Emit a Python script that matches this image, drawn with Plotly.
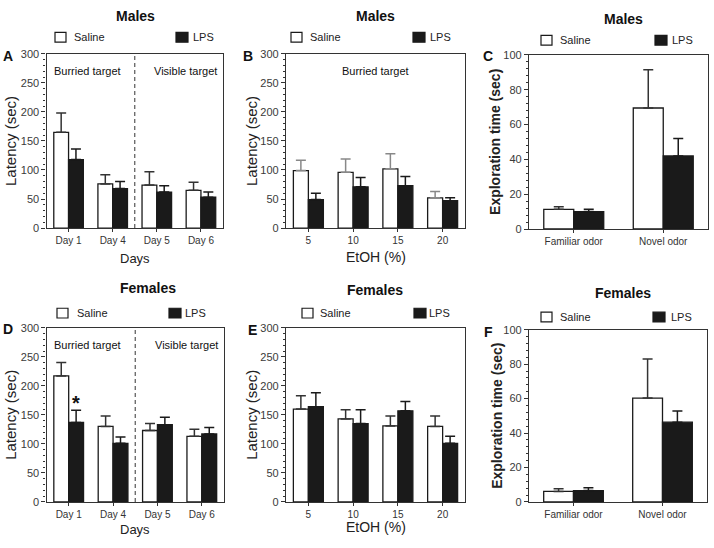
import plotly.graph_objects as go

# ---------------- data ----------------
days = ["Day 1", "Day 4", "Day 5", "Day 6"]
etoh = ["5", "10", "15", "20"]
odors = ["Familiar odor", "Novel odor"]

males_days_saline = [165, 76, 74, 65]
males_days_saline_err = [33, 16, 23, 14]
males_days_lps = [118, 68, 62, 53]
males_days_lps_err = [18, 12, 11, 9]

males_etoh_saline = [99, 96, 102, 52]
males_etoh_saline_err = [18, 23, 26, 11]
males_etoh_lps = [49, 71, 73, 47]
males_etoh_lps_err = [11, 16, 16, 5]

males_odor_saline = [11.3, 69.5]
males_odor_saline_err = [1.5, 22]
males_odor_lps = [10.0, 42.0]
males_odor_lps_err = [1.4, 10]

fem_days_saline = [217, 130, 123, 113]
fem_days_saline_err = [23, 18, 12, 12]
fem_days_lps = [137, 101, 133, 117]
fem_days_lps_err = [21, 11, 13, 11]

fem_etoh_saline = [160, 143, 131, 130]
fem_etoh_saline_err = [23, 16, 17, 18]
fem_etoh_lps = [164, 135, 157, 101]
fem_etoh_lps_err = [24, 24, 16, 12]

fem_odor_saline = [6.1, 60.3]
fem_odor_saline_err = [1.5, 22.7]
fem_odor_lps = [6.6, 46.3]
fem_odor_lps_err = [1.6, 6.5]

W, H = 714, 548
def px(x):
    return x / W
def py(y):
    return 1 - y / H

FONT = "Liberation Sans, Arial, sans-serif"
BLACK = "#1a1a1a"
LINE = "#333333"

panels = [
    dict(letter="A", cats=days, s=males_days_saline, se=males_days_saline_err, l=males_days_lps, le=males_days_lps_err,
         xd=(46.5, 223), yd=(49, 227), ymax=300, dt=50, mn=10, sec="Males", tx=135, ty=10,
         yt="Latency (sec)", ytb=False, ytx=11, xt="Days", xty=258, sec_col=LINE,
         leg=(55, 72, 176, 191, 32), lx=8, ly=51, tag="day"),
    dict(letter="B", cats=etoh, s=males_etoh_saline, se=males_etoh_saline_err, l=males_etoh_lps, le=males_etoh_lps_err,
         xd=(286, 465), yd=(49, 227), ymax=300, dt=50, mn=10, sec="Males", tx=375, ty=10,
         yt="Latency (sec)", ytb=False, ytx=252, xt="EtOH (%)", xty=257, sec_col="#888888",
         leg=(291, 308, 413, 428, 32), lx=248, ly=51, tag="etohm"),
    dict(letter="C", cats=odors, s=males_odor_saline, se=males_odor_saline_err, l=males_odor_lps, le=males_odor_lps_err,
         xd=(529, 708), yd=(50, 228), ymax=100, dt=20, mn=4, sec="Males", tx=623, ty=13,
         yt="Exploration time (sec)", ytb=True, ytx=495, xt=None, xty=None, sec_col=LINE,
         leg=(541, 558, 655, 670, 35), lx=488, ly=51, tag="odor"),
    dict(letter="D", cats=days, s=fem_days_saline, se=fem_days_saline_err, l=fem_days_lps, le=fem_days_lps_err,
         xd=(46.5, 224), yd=(329, 507), ymax=300, dt=50, mn=10, sec="Females", tx=148, ty=288,
         yt="Latency (sec)", ytb=False, ytx=11, xt="Days", xty=535, sec_col=LINE,
         leg=(57, 75, 169, 183, 314), lx=8, ly=330, tag="day"),
    dict(letter="E", cats=etoh, s=fem_etoh_saline, se=fem_etoh_saline_err, l=fem_etoh_lps, le=fem_etoh_lps_err,
         xd=(286, 465), yd=(329, 507), ymax=300, dt=50, mn=10, sec="Females", tx=375, ty=290,
         yt="Latency (sec)", ytb=False, ytx=252, xt="EtOH (%)", xty=533, sec_col=LINE,
         leg=(302, 318, 414, 427, 314), lx=252, ly=331, tag="etohf"),
    dict(letter="F", cats=odors, s=fem_odor_saline, se=fem_odor_saline_err, l=fem_odor_lps, le=fem_odor_lps_err,
         xd=(529, 707), yd=(331, 507), ymax=100, dt=20, mn=4, sec="Females", tx=623, ty=293,
         yt="Exploration time (sec)", ytb=True, ytx=497, xt=None, xty=None, sec_col=LINE,
         leg=(541, 558, 653, 669, 318), lx=488, ly=333, tag="odor"),
]

fig = go.Figure()
annotations = []
shapes = []
layout = dict(
    width=W, height=H, margin=dict(l=0, r=0, t=0, b=0),
    paper_bgcolor="white", plot_bgcolor="white",
    barmode="group", bargap=0.33, bargroupgap=0.0, showlegend=False,
    font=dict(family=FONT, color=LINE),
)

for i, p in enumerate(panels, start=1):
    xa = "x" if i == 1 else f"x{i}"
    ya = "y" if i == 1 else f"y{i}"
    fig.add_trace(go.Bar(
        x=p["cats"], y=p["s"], xaxis=xa, yaxis=ya, name="Saline",
        marker=dict(color="white", line=dict(color=BLACK, width=1.3)),
        error_y=dict(type="data", array=p["se"], arrayminus=[0] * len(p["se"]), symmetric=False,
                     color=p["sec_col"], thickness=1.5, width=5),
    ))
    fig.add_trace(go.Bar(
        x=p["cats"], y=p["l"], xaxis=xa, yaxis=ya, name="LPS",
        marker=dict(color=BLACK, line=dict(color=BLACK, width=1.3)),
        error_y=dict(type="data", array=p["le"], arrayminus=[0] * len(p["le"]), symmetric=False,
                     color=BLACK, thickness=1.5, width=5),
    ))
    xk = "xaxis" if i == 1 else f"xaxis{i}"
    yk = "yaxis" if i == 1 else f"yaxis{i}"
    layout[xk] = dict(
        domain=[px(p["xd"][0]), px(p["xd"][1])], anchor=ya,
        range=[-0.5, len(p["cats"]) - 0.5], type="category",
        showline=True, linecolor=LINE, linewidth=1.2, mirror=True,
        ticks="outside", ticklen=3, tickcolor=LINE, showgrid=False,
        tickfont=dict(size=10, color=LINE, family=FONT),
    )
    layout[yk] = dict(
        domain=[py(p["yd"][1]), py(p["yd"][0])], anchor=xa,
        range=[0, p["ymax"]], dtick=p["dt"], tick0=0,
        showline=True, linecolor=LINE, linewidth=1.2, mirror=True,
        ticks="outside", ticklen=4, tickcolor=LINE, showgrid=False, zeroline=False,
        tickfont=dict(size=11, color="#3a3a3a", family=FONT),
        minor=dict(dtick=p["mn"], ticks="outside", ticklen=2, tickcolor=LINE, showgrid=False),
    )
    annotations.append(dict(text=f"<b>{p['sec']}</b>", x=px(p["tx"]), y=py(p["ty"]), xref="paper", yref="paper",
                            showarrow=False, font=dict(size=14, color="#111111", family=FONT),
                            xanchor="center", yanchor="middle"))
    annotations.append(dict(text=f"<b>{p['letter']}</b>", x=px(p["lx"]), y=py(p["ly"]), xref="paper", yref="paper",
                            showarrow=False, font=dict(size=14, color="#111111", family=FONT),
                            xanchor="center", yanchor="middle"))
    yt = f"<b>{p['yt']}</b>" if p["ytb"] else p["yt"]
    annotations.append(dict(text=yt, x=px(p["ytx"]), y=py((p["yd"][0] + p["yd"][1]) / 2), xref="paper", yref="paper",
                            showarrow=False, textangle=-90,
                            font=dict(size=14 if p["ytb"] else 15, color="#222222", family=FONT),
                            xanchor="center", yanchor="middle"))
    if p["xt"]:
        annotations.append(dict(text=p["xt"], x=px((p["xd"][0] + p["xd"][1]) / 2), y=py(p["xty"]),
                                xref="paper", yref="paper", showarrow=False,
                                font=dict(size=14 if "EtOH" in p["xt"] else 13, color="#222222", family=FONT),
                                xanchor="center", yanchor="middle"))
    sbx, stx, lbx, ltx, lgy = p["leg"]
    shapes.append(dict(type="rect", xref="paper", yref="paper", x0=px(sbx), x1=px(sbx + 11),
                       y0=py(lgy + 5), y1=py(lgy - 5), line=dict(color=BLACK, width=1.2), fillcolor="white"))
    shapes.append(dict(type="rect", xref="paper", yref="paper", x0=px(lbx), x1=px(lbx + 12),
                       y0=py(lgy + 5), y1=py(lgy - 5), line=dict(color=BLACK, width=1.2), fillcolor=BLACK))
    annotations.append(dict(text="Saline", x=px(stx), y=py(lgy), xref="paper", yref="paper", showarrow=False,
                            font=dict(size=11, color="#222222", family=FONT), xanchor="left", yanchor="middle"))
    annotations.append(dict(text="LPS", x=px(ltx), y=py(lgy), xref="paper", yref="paper", showarrow=False,
                            font=dict(size=11, color="#222222", family=FONT), xanchor="left", yanchor="middle"))
    if p["tag"] == "day":
        shapes.append(dict(type="line", xref=xa, yref=f"{ya} domain", x0=1.5, x1=1.5, y0=0, y1=1,
                           line=dict(color="#555555", width=1.2, dash="4px,3px")))
        annotations.append(dict(text="Burried target", xref=f"{xa} domain", yref=f"{ya} domain",
                                x=0.03, y=0.9, showarrow=False, xanchor="left", yanchor="middle",
                                font=dict(size=11, color="#111111", family=FONT)))
        annotations.append(dict(text="Visible target", xref=f"{xa} domain", yref=f"{ya} domain",
                                x=0.98, y=0.9, showarrow=False, xanchor="right", yanchor="middle",
                                font=dict(size=11, color="#111111", family=FONT)))
    if p["tag"] == "etohm":
        annotations.append(dict(text="Burried target", xref=f"{xa} domain", yref=f"{ya} domain",
                                x=0.5, y=0.9, showarrow=False, xanchor="center", yanchor="middle",
                                font=dict(size=11, color="#111111", family=FONT)))
    if p["letter"] == "D":
        annotations.append(dict(text="<b>*</b>", xref=xa, yref=ya, x=0, y=p["l"][0] + p["le"][0],
                                xshift=7.5, yshift=-6, showarrow=False, xanchor="center", yanchor="bottom",
                                font=dict(size=20, color="#111111", family=FONT)))

layout["annotations"] = annotations
layout["shapes"] = shapes
fig.update_layout(**layout)
fig.write_html("out.html", config={"displayModeBar": False},
               post_script="document.body.style.margin='0';")
